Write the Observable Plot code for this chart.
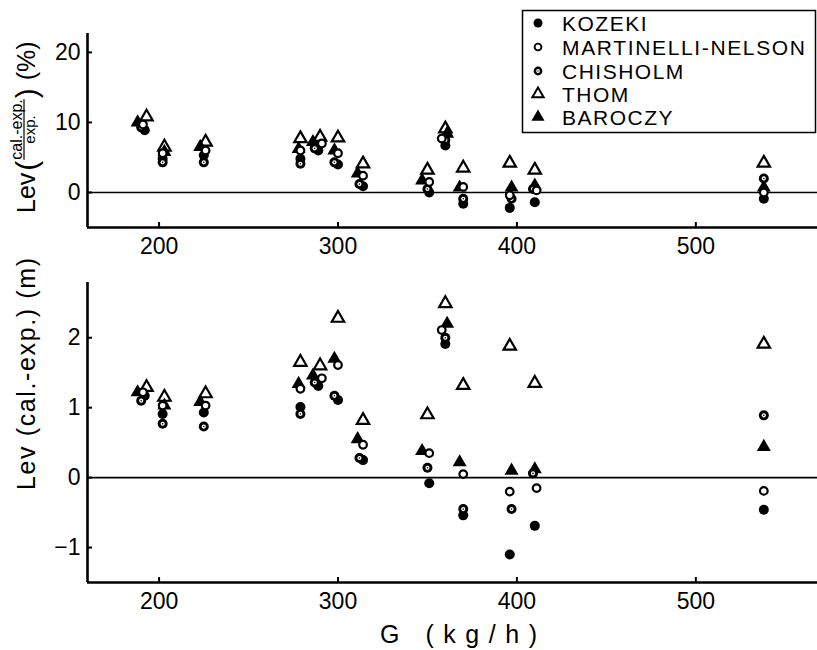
<!DOCTYPE html>
<html><head><meta charset="utf-8">
<script src="https://cdn.jsdelivr.net/npm/d3@7"></script>
<script src="https://cdn.jsdelivr.net/npm/@observablehq/plot@0.6"></script>
<style>
body{margin:0;background:#fff;}
#wrap{position:relative;width:817px;height:650px;overflow:hidden;background:#fff;font-family:"Liberation Sans",Arial,sans-serif;}
.layer{position:absolute;left:0;}
</style></head><body><div id="wrap"></div>
<script>
// ---------- data ----------
const seriesNames = ["KOZEKI", "MARTINELLI-NELSON", "CHISHOLM", "THOM", "BAROCZY"];
const xTicks = [200, 300, 400, 500];
const pctTicks = [0, 10, 20];
const mTicks = [-1, 0, 1, 2];
const xDomain = [160, 568];
const pctDomain = [-5, 22.7];
const mDomain = [-1.5, 2.79];

// G (kg/h) of each point, per correlation
const gKozeki   = [192, 202, 225, 279, 289, 300, 314, 351, 360, 370, 396, 410, 538];
const gMartinelli = [191, 202, 226, 279, 291, 300, 314, 351, 358, 370, 396, 411, 538];
const gChisholm = [190, 202, 225, 279, 287, 298, 312, 350, 360, 370, 397, 409, 538];
const gThom     = [193, 203, 226, 279, 290, 300, 314, 350, 360, 370, 396, 410, 538];
const gBaroczy  = [188, 203, 223, 278, 286, 298, 311, 347, 361, 368, 397, 410, 538];

// upper panel: Lev (cal.-exp.)/exp. (%)
const pctKozeki   = [8.9, 4.8, 5.3, 4.8, 6.0, 4.0, 0.9, 0.0, 6.7, -1.6, -2.2, -1.4, -0.9];
const pctMartinelli = [9.7, 5.6, 6.0, 6.0, 7.0, 5.6, 2.4, 1.5, 7.7, 0.8, -0.4, 0.3, 0.0];
const pctChisholm = [9.3, 4.3, 4.3, 4.1, 6.3, 4.3, 1.2, 0.5, 7.5, -0.9, -0.9, 0.5, 2.0];
const pctThom     = [10.8, 6.5, 7.2, 7.7, 7.9, 7.8, 4.1, 3.2, 9.1, 3.5, 4.2, 3.2, 4.2];
const pctBaroczy  = [10.0, 5.8, 6.5, 6.2, 7.2, 6.0, 2.7, 1.7, 8.4, 0.7, 0.7, 1.0, 0.7];

// lower panel: Lev (cal.-exp.) (m)
const mKozeki   = [1.17, 0.91, 0.93, 1.01, 1.31, 1.11, 0.25, -0.08, 1.91, -0.54, -1.10, -0.69, -0.46];
const mMartinelli = [1.22, 1.03, 1.03, 1.27, 1.42, 1.61, 0.47, 0.35, 2.11, 0.05, -0.20, -0.15, -0.19];
const mChisholm = [1.10, 0.77, 0.73, 0.91, 1.36, 1.17, 0.28, 0.14, 2.00, -0.45, -0.45, 0.06, 0.89];
const mThom     = [1.29, 1.15, 1.20, 1.65, 1.60, 2.28, 0.82, 0.90, 2.49, 1.32, 1.88, 1.35, 1.91];
const mBaroczy  = [1.22, 1.03, 1.08, 1.34, 1.46, 1.70, 0.55, 0.38, 2.20, 0.22, 0.10, 0.12, 0.44];

// ---------- build table ----------
const seriesData = [
  {name: seriesNames[0], g: gKozeki, pct: pctKozeki, m: mKozeki},
  {name: seriesNames[1], g: gMartinelli, pct: pctMartinelli, m: mMartinelli},
  {name: seriesNames[2], g: gChisholm, pct: pctChisholm, m: mChisholm},
  {name: seriesNames[3], g: gThom, pct: pctThom, m: mThom},
  {name: seriesNames[4], g: gBaroczy, pct: pctBaroczy, m: mBaroczy}
];
const rows = seriesData.flatMap(s => s.g.map((G, i) => ({series: s.name, G, pct: s.pct[i], m: s.m[i]})));
const of = name => rows.filter(d => d.series === name);

const FONT = '"Liberation Sans", Arial, sans-serif';
const W = 817, ML = 87;
const intFmt = d => (d < 0 ? "\u2212" + Math.abs(d) : String(d));

function pointMarks(yField) {
  const o = {x: "G", y: yField};
  return [
    Plot.dot(of("THOM"), {...o, symbol: "triangle", r: 4.6, fill: "white", stroke: "black", strokeWidth: 2.2}),
    Plot.dot(of("BAROCZY"), {...o, symbol: "triangle", r: 5.2, fill: "black"}),
    Plot.dot(of("KOZEKI"), {...o, r: 5, fill: "black"}),
    Plot.dot(of("CHISHOLM"), {...o, r: 5, fill: "black"}),
    Plot.dot(of("CHISHOLM"), {...o, r: 2.1, fill: "white"}),
    Plot.dot(of("CHISHOLM"), {...o, r: 0.8, fill: "black"}),
    Plot.dot(of("MARTINELLI-NELSON"), {...o, r: 3.8, fill: "white", stroke: "black", strokeWidth: 2.2})
  ];
}

function panel({yField, yDomain, yTicks, height, marginTop, marginBottom}) {
  const plotH = height - marginTop - marginBottom;
  return Plot.plot({
    width: W, height, marginLeft: ML, marginRight: 0, marginTop, marginBottom,
    style: {fontFamily: FONT, fontSize: "23px", color: "black", background: "white", overflow: "visible"},
    x: {domain: xDomain},
    y: {domain: yDomain},
    marks: [
      Plot.ruleY([0], {stroke: "black", strokeWidth: 1.6}),
      Plot.tickX(xTicks, {x: d => d, insetTop: plotH - 5, stroke: "black", strokeWidth: 2}),
      Plot.tickY(yTicks, {y: d => d, insetRight: (W - ML) - 5, stroke: "black", strokeWidth: 2}),
      Plot.axisX({ticks: xTicks, tickSize: 0, tickPadding: 10, label: null, fontSize: 23, tickFormat: intFmt}),
      Plot.axisY({ticks: yTicks, tickSize: 0, tickPadding: 7, label: null, fontSize: 23, tickFormat: intFmt}),
      ...pointMarks(yField),
      Plot.ruleX([xDomain[0]], {stroke: "black", strokeWidth: 2.6}),
      Plot.ruleY([yDomain[0]], {stroke: "black", strokeWidth: 2.6})
    ]
  });
}

const wrap = document.getElementById("wrap");
const topDiv = document.createElement("div");
topDiv.className = "layer"; topDiv.style.top = "0px";
topDiv.appendChild(panel({yField: "pct", yDomain: pctDomain, yTicks: pctTicks, height: 262, marginTop: 33, marginBottom: 35}));
wrap.appendChild(topDiv);

const botDiv = document.createElement("div");
botDiv.className = "layer"; botDiv.style.top = "262px";
botDiv.appendChild(panel({yField: "m", yDomain: mDomain, yTicks: mTicks, height: 388, marginTop: 20, marginBottom: 68}));
wrap.appendChild(botDiv);

// ---------- overlay: axis titles and legend ----------
const ov = d3.select(wrap).append("svg")
  .attr("class", "layer").style("top", "0px")
  .attr("width", W).attr("height", 650)
  .style("pointer-events", "none")
  .attr("font-family", FONT).attr("fill", "black");

// upper y title: Lev (cal.-exp. / exp.) (%)
{
  const g = ov.append("g").attr("transform", "translate(35,213) rotate(-90)");
  let x = 0;
  const t1 = g.append("text").attr("x", x).attr("y", 0).attr("font-size", 25).text("Lev");
  x += t1.node().getComputedTextLength() + 2;
  const p1 = g.append("text").attr("x", x).attr("y", 2).attr("font-size", 30).text("(");
  x += p1.node().getComputedTextLength() + 1;
  const num = g.append("text").attr("x", x).attr("y", -13).attr("font-size", 16).text("cal.-exp.");
  const fw = num.node().getComputedTextLength();
  g.append("line").attr("x1", x).attr("x2", x + fw).attr("y1", -11).attr("y2", -11).attr("stroke", "black").attr("stroke-width", 1.2);
  g.append("text").attr("x", x + fw / 2).attr("y", -0.5).attr("font-size", 15).attr("text-anchor", "middle").text("exp.");
  x += fw + 1;
  const p2 = g.append("text").attr("x", x).attr("y", 2).attr("font-size", 30).text(")");
  x += p2.node().getComputedTextLength() + 8;
  g.append("text").attr("x", x).attr("y", 0).attr("font-size", 25).text("(%)");
}
// lower y title
ov.append("text").attr("transform", "translate(35,490) rotate(-90)")
  .attr("font-size", 25).attr("textLength", 232).attr("lengthAdjust", "spacing")
  .text("Lev (cal.-exp.) (m)");
// x title
ov.append("text").attr("x", 380).attr("y", 643).attr("font-size", 25)
  .attr("textLength", 157).attr("lengthAdjust", "spacing").text("G (kg/h)");

// legend
{
  const lg = ov.append("g");
  lg.append("rect").attr("x", 522.5).attr("y", 10.5).attr("width", 293).attr("height", 122)
    .attr("fill", "white").attr("stroke", "black").attr("stroke-width", 1.5);
  const rowY = [23, 47, 71, 94, 117];
  const sx = 538;
  const tri = d3.symbol(d3.symbolTriangle);
  seriesNames.forEach((name, i) => {
    const y = rowY[i];
    const s = lg.append("g").attr("transform", `translate(${sx},${y})`);
    if (name === "KOZEKI") s.append("circle").attr("r", 4.5).attr("fill", "black");
    if (name === "MARTINELLI-NELSON") s.append("circle").attr("r", 3.4).attr("fill", "white").attr("stroke", "black").attr("stroke-width", 1.9);
    if (name === "CHISHOLM") {
      s.append("circle").attr("r", 4.4).attr("fill", "black");
      s.append("circle").attr("r", 1.9).attr("fill", "white");
      s.append("circle").attr("r", 0.7).attr("fill", "black");
    }
    if (name === "THOM") s.append("path").attr("d", tri.size(55)()).attr("fill", "white").attr("stroke", "black").attr("stroke-width", 2);
    if (name === "BAROCZY") s.append("path").attr("d", tri.size(75)()).attr("fill", "black");
    const t = lg.append("text").attr("x", 562).attr("y", y + 7.5).attr("font-size", 21).text(name);
    if (name === "MARTINELLI-NELSON") t.attr("textLength", 243).attr("lengthAdjust", "spacing");
    else t.attr("letter-spacing", 1.5);
  });
}
</script></body></html>
